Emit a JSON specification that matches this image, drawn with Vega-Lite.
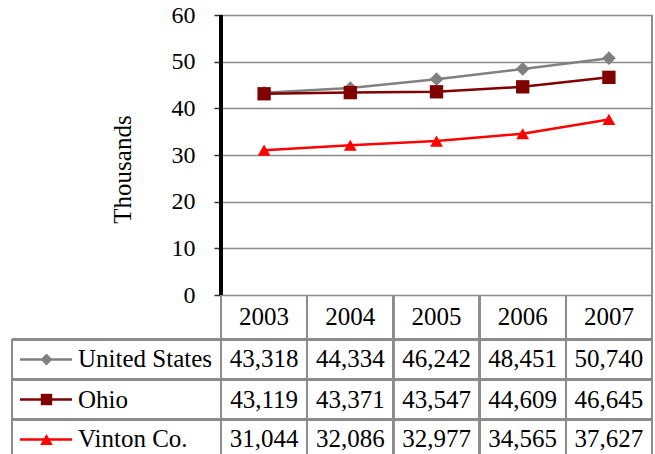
{
  "$schema": "https://vega.github.io/schema/vega-lite/v6.json",
  "width": 431,
  "height": 439,
  "autosize": {"type": "none"},
  "padding": {"left": 221, "top": 15, "right": 3, "bottom": 0},
  "background": "white",
  "config": {"view": {"stroke": null}, "font": "Liberation Serif"},
  "data": {"values": [
    {"series": "United States", "year": 2003, "income": 43318},
    {"series": "United States", "year": 2004, "income": 44334},
    {"series": "United States", "year": 2005, "income": 46242},
    {"series": "United States", "year": 2006, "income": 48451},
    {"series": "United States", "year": 2007, "income": 50740},
    {"series": "Ohio", "year": 2003, "income": 43119},
    {"series": "Ohio", "year": 2004, "income": 43371},
    {"series": "Ohio", "year": 2005, "income": 43547},
    {"series": "Ohio", "year": 2006, "income": 44609},
    {"series": "Ohio", "year": 2007, "income": 46645},
    {"series": "Vinton Co.", "year": 2003, "income": 31044},
    {"series": "Vinton Co.", "year": 2004, "income": 32086},
    {"series": "Vinton Co.", "year": 2005, "income": 32977},
    {"series": "Vinton Co.", "year": 2006, "income": 34565},
    {"series": "Vinton Co.", "year": 2007, "income": 37627}
  ]},
  "layer": [
    {
      "mark": {"type": "line", "strokeWidth": 2.5},
      "encoding": {
        "x": {"field": "year", "type": "quantitative", "axis": null, "scale": {"domain": [2002.5, 2007.5], "nice": false, "zero": false}},
        "y": {"field": "income", "type": "quantitative", "scale": {"domain": [-34071.4, 60000], "nice": false, "zero": false},
          "axis": {"values": [0, 10000, 20000, 30000, 40000, 50000, 60000], "labelExpr": "datum.value / 1000", "grid": true, "gridColor": "#8c8c8c", "gridWidth": 1.5, "domain": false, "ticks": true, "tickSize": 7, "tickColor": "#333333", "tickWidth": 1.5, "labelPadding": 19, "labelFont": "Liberation Serif", "labelFontSize": 24, "labelColor": "black", "title": "Thousands", "titleFont": "Liberation Serif", "titleFontSize": 25, "titleFontWeight": "normal", "titleColor": "black", "titleAngle": -90, "titleX": -99, "titleY": 154, "titleAlign": "center", "titleBaseline": "middle"}},
        "color": {"field": "series", "type": "nominal", "legend": null, "scale": {"domain": ["United States", "Ohio", "Vinton Co."], "range": ["#808080", "#800000", "#ff0000"]}}
      }
    },
    {
      "mark": {"type": "rule", "color": "#8c8c8c", "strokeWidth": 1.5},
      "encoding": {"x": {"datum": 2007.5, "type": "quantitative", "axis": null}, "y": {"datum": 60000, "type": "quantitative"}, "y2": {"datum": -34071.4}}
    },
    {
      "mark": {"type": "rule", "color": "#8c8c8c", "strokeWidth": 1.5},
      "encoding": {"x": {"datum": 2002.5, "type": "quantitative", "axis": null}, "y": {"datum": 0, "type": "quantitative"}, "y2": {"datum": -34071.4}}
    },
    {
      "mark": {"type": "rule", "color": "black", "strokeWidth": 2.5},
      "encoding": {"x": {"datum": 2002.5, "type": "quantitative", "axis": null}, "y": {"datum": 0, "type": "quantitative"}, "y2": {"datum": 60000}}
    },
    {
      "mark": {"type": "point", "filled": true, "opacity": 1},
      "encoding": {
        "x": {"field": "year", "type": "quantitative", "axis": null},
        "y": {"field": "income", "type": "quantitative"},
        "color": {"field": "series", "type": "nominal", "legend": null},
        "shape": {"field": "series", "type": "nominal", "legend": null, "scale": {"domain": ["United States", "Ohio", "Vinton Co."], "range": ["diamond", "square", "triangle-up"]}},
        "size": {"field": "series", "type": "nominal", "legend": null, "scale": {"domain": ["United States", "Ohio", "Vinton Co."], "range": [190, 165, 190]}}
      }
    },
    {
      "mark": {"type": "rule", "color": "#8c8c8c", "strokeWidth": 1.5},
      "encoding": {"x": {"datum": 2003.5, "type": "quantitative", "axis": null}, "y": {"datum": 0, "type": "quantitative"}, "y2": {"datum": -34071.4}}
    },
    {
      "mark": {"type": "rule", "color": "#8c8c8c", "strokeWidth": 1.5},
      "encoding": {"x": {"datum": 2004.5, "type": "quantitative", "axis": null}, "y": {"datum": 0, "type": "quantitative"}, "y2": {"datum": -34071.4}}
    },
    {
      "mark": {"type": "rule", "color": "#8c8c8c", "strokeWidth": 1.5},
      "encoding": {"x": {"datum": 2005.5, "type": "quantitative", "axis": null}, "y": {"datum": 0, "type": "quantitative"}, "y2": {"datum": -34071.4}}
    },
    {
      "mark": {"type": "rule", "color": "#8c8c8c", "strokeWidth": 1.5},
      "encoding": {"x": {"datum": 2006.5, "type": "quantitative", "axis": null}, "y": {"datum": 0, "type": "quantitative"}, "y2": {"datum": -34071.4}}
    },
    {
      "mark": {"type": "rule", "color": "#8c8c8c", "strokeWidth": 1.5},
      "encoding": {"x": {"datum": 2000.075, "type": "quantitative", "axis": null}, "y": {"datum": -9535.7, "type": "quantitative"}, "y2": {"datum": -34071.4}}
    },
    {
      "mark": {"type": "rule", "color": "#8c8c8c", "strokeWidth": 1.5},
      "encoding": {"x": {"datum": 2000.075, "type": "quantitative", "axis": null}, "x2": {"datum": 2007.5}, "y": {"datum": -9535.7, "type": "quantitative"}}
    },
    {
      "mark": {"type": "rule", "color": "#8c8c8c", "strokeWidth": 1.5},
      "encoding": {"x": {"datum": 2000.075, "type": "quantitative", "axis": null}, "x2": {"datum": 2007.5}, "y": {"datum": -18107, "type": "quantitative"}}
    },
    {
      "mark": {"type": "rule", "color": "#8c8c8c", "strokeWidth": 1.5},
      "encoding": {"x": {"datum": 2000.075, "type": "quantitative", "axis": null}, "x2": {"datum": 2007.5}, "y": {"datum": -26678.6, "type": "quantitative"}}
    },
    {
      "transform": [{"filter": "datum.series == 'United States'"}],
      "mark": {"type": "text", "font": "Liberation Serif", "fontSize": 25, "color": "black", "align": "center", "baseline": "middle"},
      "encoding": {"x": {"field": "year", "type": "quantitative", "axis": null}, "y": {"datum": -4768, "type": "quantitative"}, "text": {"field": "year", "type": "quantitative", "format": "d"}}
    },
    {
      "transform": [{"filter": "datum.series == 'United States'"}],
      "layer": [
        {
          "mark": {"type": "text", "font": "Liberation Serif", "fontSize": 25, "color": "black", "align": "center", "baseline": "middle"},
          "encoding": {"x": {"field": "year", "type": "quantitative", "axis": null}, "y": {"datum": -13821, "type": "quantitative"}, "text": {"field": "income", "type": "quantitative", "format": ","}}
        },
        {
          "transform": [{"filter": "datum.year == 2003"}],
          "mark": {"type": "rule", "color": "#808080", "strokeWidth": 2.5},
          "encoding": {"x": {"datum": 2000.168, "type": "quantitative", "axis": null}, "x2": {"datum": 2000.7715}, "y": {"datum": -13821, "type": "quantitative"}}
        },
        {
          "transform": [{"filter": "datum.year == 2003"}],
          "mark": {"type": "point", "shape": "diamond", "filled": true, "opacity": 1, "color": "#808080", "size": 140},
          "encoding": {"x": {"datum": 2000.4756, "type": "quantitative", "axis": null}, "y": {"datum": -13821, "type": "quantitative"}}
        },
        {
          "transform": [{"filter": "datum.year == 2003"}],
          "mark": {"type": "text", "font": "Liberation Serif", "fontSize": 25, "color": "black", "align": "left", "baseline": "middle"},
          "encoding": {"x": {"datum": 2000.841, "type": "quantitative", "axis": null}, "y": {"datum": -13821, "type": "quantitative"}, "text": {"field": "series", "type": "nominal"}}
        }
      ]
    },
    {
      "transform": [{"filter": "datum.series == 'Ohio'"}],
      "layer": [
        {
          "mark": {"type": "text", "font": "Liberation Serif", "fontSize": 25, "color": "black", "align": "center", "baseline": "middle"},
          "encoding": {"x": {"field": "year", "type": "quantitative", "axis": null}, "y": {"datum": -22393, "type": "quantitative"}, "text": {"field": "income", "type": "quantitative", "format": ","}}
        },
        {
          "transform": [{"filter": "datum.year == 2003"}],
          "mark": {"type": "rule", "color": "#800000", "strokeWidth": 2.5},
          "encoding": {"x": {"datum": 2000.168, "type": "quantitative", "axis": null}, "x2": {"datum": 2000.7715}, "y": {"datum": -22393, "type": "quantitative"}}
        },
        {
          "transform": [{"filter": "datum.year == 2003"}],
          "mark": {"type": "point", "shape": "square", "filled": true, "opacity": 1, "color": "#800000", "size": 130},
          "encoding": {"x": {"datum": 2000.4756, "type": "quantitative", "axis": null}, "y": {"datum": -22393, "type": "quantitative"}}
        },
        {
          "transform": [{"filter": "datum.year == 2003"}],
          "mark": {"type": "text", "font": "Liberation Serif", "fontSize": 25, "color": "black", "align": "left", "baseline": "middle"},
          "encoding": {"x": {"datum": 2000.841, "type": "quantitative", "axis": null}, "y": {"datum": -22393, "type": "quantitative"}, "text": {"field": "series", "type": "nominal"}}
        }
      ]
    },
    {
      "transform": [{"filter": "datum.series == 'Vinton Co.'"}],
      "layer": [
        {
          "mark": {"type": "text", "font": "Liberation Serif", "fontSize": 25, "color": "black", "align": "center", "baseline": "middle"},
          "encoding": {"x": {"field": "year", "type": "quantitative", "axis": null}, "y": {"datum": -30964, "type": "quantitative"}, "text": {"field": "income", "type": "quantitative", "format": ","}}
        },
        {
          "transform": [{"filter": "datum.year == 2003"}],
          "mark": {"type": "rule", "color": "#ff0000", "strokeWidth": 2.5},
          "encoding": {"x": {"datum": 2000.168, "type": "quantitative", "axis": null}, "x2": {"datum": 2000.7715}, "y": {"datum": -30964, "type": "quantitative"}}
        },
        {
          "transform": [{"filter": "datum.year == 2003"}],
          "mark": {"type": "point", "shape": "triangle-up", "filled": true, "opacity": 1, "color": "#ff0000", "size": 160},
          "encoding": {"x": {"datum": 2000.4756, "type": "quantitative", "axis": null}, "y": {"datum": -30964, "type": "quantitative"}}
        },
        {
          "transform": [{"filter": "datum.year == 2003"}],
          "mark": {"type": "text", "font": "Liberation Serif", "fontSize": 25, "color": "black", "align": "left", "baseline": "middle"},
          "encoding": {"x": {"datum": 2000.841, "type": "quantitative", "axis": null}, "y": {"datum": -30964, "type": "quantitative"}, "text": {"field": "series", "type": "nominal"}}
        }
      ]
    }
  ]
}
